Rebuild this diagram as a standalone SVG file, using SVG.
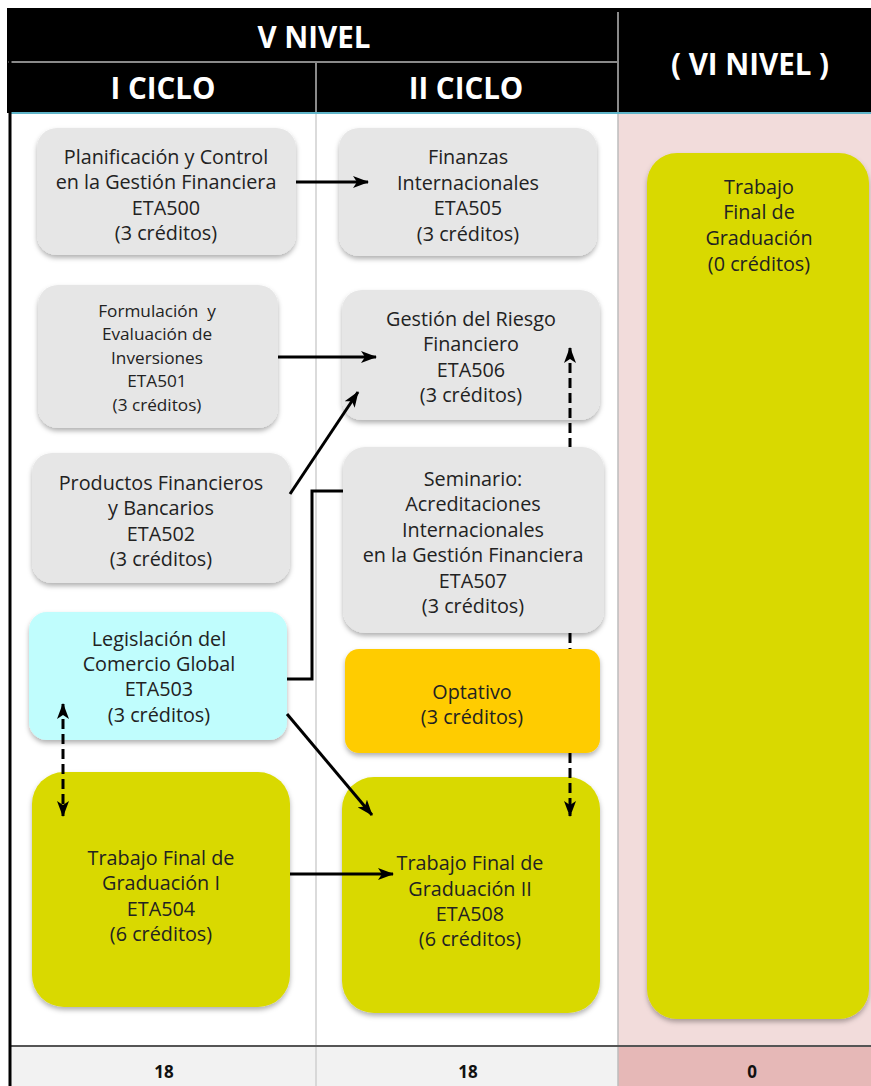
<svg xmlns="http://www.w3.org/2000/svg" width="871" height="1086" viewBox="0 0 871 1086">
<defs>
<style>
.hdr{font-family:"Open Sans","Liberation Sans",sans-serif;font-weight:bold;font-size:29.5px;fill:#fff;text-anchor:middle}
.t{font-family:"Open Sans","Liberation Sans",sans-serif;font-size:19.8px;fill:#222;text-anchor:middle}
.ts{font-size:17.2px}
.tot{font-family:"Open Sans","Liberation Sans",sans-serif;font-weight:bold;font-size:17px;fill:#111;text-anchor:middle}
.gray{fill:#e6e6e6}
.cyan{fill:#c0fdfd}
.orange{fill:#ffcc00}
.yel{fill:#d9d900}
.con{fill:none;stroke:#000;stroke-width:3}
.dash{fill:none;stroke:#000;stroke-width:3;stroke-dasharray:10 5}
</style>
<filter id="sh" x="-10%" y="-10%" width="120%" height="125%">
<feDropShadow dx="0" dy="3" stdDeviation="2.5" flood-color="#000" flood-opacity="0.3"/>
</filter>
<marker id="ar" markerUnits="userSpaceOnUse" markerWidth="16" markerHeight="12" refX="15" refY="6" orient="auto-start-reverse">
<path d="M0,0 L16,6 L0,12 L4,6 z" fill="#000"/>
</marker>
</defs>
<rect x="0" y="0" width="871" height="1086" fill="#fff"/>
<!-- columns -->
<rect x="618" y="113" width="253" height="933" fill="#f2dcdb"/>
<line x1="316" y1="113" x2="316" y2="1086" stroke="#cfcfcf" stroke-width="1.5"/>
<line x1="618" y1="113" x2="618" y2="1086" stroke="#bdbdbd" stroke-width="1.5"/>
<!-- totals row -->
<rect x="10" y="1046" width="608" height="40" fill="#f2f2f2"/>
<rect x="618" y="1046" width="253" height="40" fill="#e6b8b7"/>
<line x1="316" y1="1046" x2="316" y2="1086" stroke="#cfcfcf" stroke-width="1.5"/>
<line x1="618" y1="1046" x2="618" y2="1086" stroke="#bdbdbd" stroke-width="1.5"/>
<line x1="10" y1="1046" x2="871" y2="1046" stroke="#555" stroke-width="2"/>
<text class="tot" x="164" y="1078">18</text>
<text class="tot" x="468" y="1078">18</text>
<text class="tot" x="752" y="1078">0</text>
<!-- header -->
<rect x="7" y="8" width="864" height="105" fill="#000"/>
<line x1="8" y1="62" x2="618" y2="62" stroke="#8a8a8a" stroke-width="2"/>
<line x1="316" y1="62" x2="316" y2="112" stroke="#8a8a8a" stroke-width="2"/>
<line x1="618" y1="12" x2="618" y2="112" stroke="#8a8a8a" stroke-width="2"/>
<line x1="10" y1="113" x2="871" y2="113" stroke="#5fb4c8" stroke-width="2"/>
<text class="hdr" x="314" y="48">V NIVEL</text>
<text class="hdr" x="163" y="99">I CICLO</text>
<text class="hdr" x="466" y="99">II CICLO</text>
<text class="hdr" x="750" y="75">( VI NIVEL )</text>
<line x1="10" y1="8" x2="10" y2="1086" stroke="#000" stroke-width="3"/>
<!-- nodes -->
<g id="eta500">
<rect class="gray" x="37" y="128" width="259" height="127" rx="20" filter="url(#sh)"/>
<text class="t" x="166" y="163.5">Planificación y Control</text>
<text class="t" x="166" y="189">en la Gestión Financiera</text>
<text class="t" x="166" y="214.5">ETA500</text>
<text class="t" x="166" y="240">(3 créditos)</text>
</g>
<g id="eta505">
<rect class="gray" x="339" y="128" width="258" height="128" rx="20" filter="url(#sh)"/>
<text class="t" x="468" y="164">Finanzas</text>
<text class="t" x="468" y="189.5">Internacionales</text>
<text class="t" x="468" y="215">ETA505</text>
<text class="t" x="468" y="240.5">(3 créditos)</text>
</g>
<g id="eta501">
<rect class="gray" x="38" y="285" width="240" height="143" rx="20" filter="url(#sh)"/>
<text class="t ts" x="157" y="316.5" xml:space="preserve">Formulación  y</text>
<text class="t ts" x="157" y="340">Evaluación de</text>
<text class="t ts" x="157" y="363.5">Inversiones</text>
<text class="t ts" x="157" y="387">ETA501</text>
<text class="t ts" x="157" y="410.5">(3 créditos)</text>
</g>
<g id="eta506">
<rect class="gray" x="342" y="290" width="258" height="130" rx="20" filter="url(#sh)"/>
<text class="t" x="471" y="325.5">Gestión del Riesgo</text>
<text class="t" x="471" y="351">Financiero</text>
<text class="t" x="471" y="376.5">ETA506</text>
<text class="t" x="471" y="402">(3 créditos)</text>
</g>
<g id="eta502">
<rect class="gray" x="32" y="453" width="258" height="130" rx="20" filter="url(#sh)"/>
<text class="t" x="161" y="489.5">Productos Financieros</text>
<text class="t" x="161" y="515">y Bancarios</text>
<text class="t" x="161" y="540.5">ETA502</text>
<text class="t" x="161" y="566">(3 créditos)</text>
</g>
<g id="eta503">
<rect class="cyan" x="29" y="612" width="258" height="128" rx="18" filter="url(#sh)"/>
<text class="t" x="159" y="645.5">Legislación del</text>
<text class="t" x="159" y="671">Comercio Global</text>
<text class="t" x="159" y="696">ETA503</text>
<text class="t" x="159" y="721.5">(3 créditos)</text>
</g>
<g id="eta504">
<rect class="yel" x="32" y="772" width="258" height="235" rx="32" filter="url(#sh)"/>
<text class="t" x="161" y="864.5">Trabajo Final de</text>
<text class="t" x="161" y="889.5">Graduación I</text>
<text class="t" x="161" y="915.5">ETA504</text>
<text class="t" x="161" y="940.5">(6 créditos)</text>
</g>
<g id="eta508">
<rect class="yel" x="342" y="777" width="258" height="236" rx="32" filter="url(#sh)"/>
<text class="t" x="470" y="870">Trabajo Final de</text>
<text class="t" x="470" y="895.5">Graduación II</text>
<text class="t" x="470" y="921">ETA508</text>
<text class="t" x="470" y="946">(6 créditos)</text>
</g>
<g id="tfg">
<rect class="yel" x="647" y="153" width="222" height="866" rx="30" filter="url(#sh)"/>
<text class="t" x="759" y="193.5">Trabajo</text>
<text class="t" x="759" y="218.5">Final de</text>
<text class="t" x="759" y="244.5">Graduación</text>
<text class="t" x="759" y="270.5">(0 créditos)</text>
</g>
<!-- connectors -->
<g id="connectors">
<path class="con" d="M296,182 L368,182" marker-end="url(#ar)"/>
<path class="con" d="M278,357 L376,357" marker-end="url(#ar)"/>
<path class="con" d="M290,494 L358,392" marker-end="url(#ar)"/>
<path class="con" d="M287,679 H312 V491 H343"/>
<path class="con" d="M287,714 L372,815" marker-end="url(#ar)"/>
<path class="con" d="M290,874 L393,874" marker-end="url(#ar)"/>
<path class="dash" d="M63,704 L63,816" marker-start="url(#ar)" marker-end="url(#ar)"/>
<path class="dash" d="M570,348 L570,816" marker-start="url(#ar)" marker-end="url(#ar)"/>
</g>
<g id="eta507">
<rect class="gray" x="343" y="447" width="261" height="186" rx="22" filter="url(#sh)"/>
<text class="t" x="473" y="485.5">Seminario:</text>
<text class="t" x="473" y="511">Acreditaciones</text>
<text class="t" x="473" y="536.5">Internacionales</text>
<text class="t" x="473" y="562">en la Gestión Financiera</text>
<text class="t" x="473" y="587.5">ETA507</text>
<text class="t" x="473" y="613">(3 créditos)</text>
</g>
<g id="optativo">
<rect class="orange" x="345" y="649" width="255" height="104" rx="14" filter="url(#sh)"/>
<text class="t" x="472" y="698.5">Optativo</text>
<text class="t" x="472" y="724">(3 créditos)</text>
</g>
</svg>
